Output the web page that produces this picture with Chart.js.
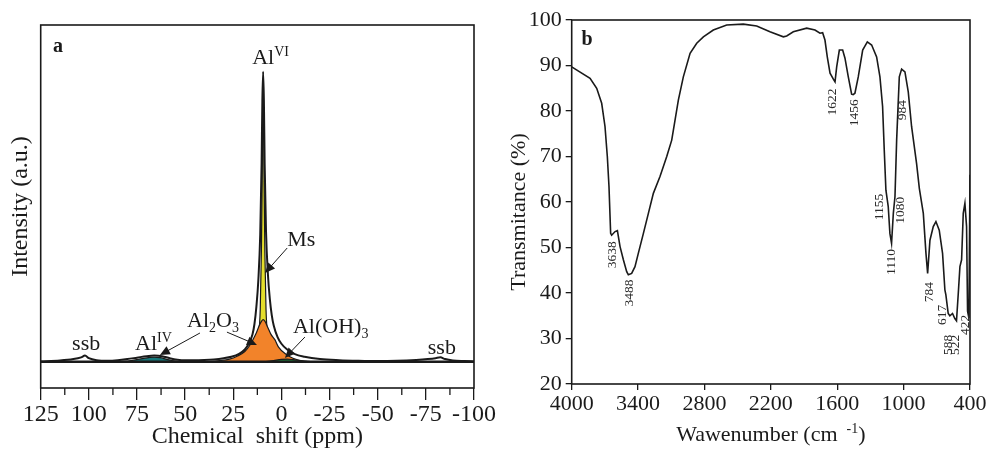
<!DOCTYPE html>
<html>
<head>
<meta charset="utf-8">
<script src="https://cdn.jsdelivr.net/npm/chart.js@4.4.1/dist/chart.umd.min.js"></script>
<style>
  body { margin: 0; background: #fff; }
  #wrap { position: relative; width: 989px; height: 454px; overflow: hidden; }
  canvas { position: absolute; top: 0; }
  #chartA { left: 0; }
  #chartB { left: 500px; }
</style>
</head>
<body>
<div id="wrap">
  <canvas id="chartA" width="500" height="454"></canvas>
  <canvas id="chartB" width="489" height="454"></canvas>
</div>
<script>
// ---- Panel a : 27Al NMR (chemical shift in ppm, intensity a.u.) ----
const envShift = [125, 115, 108, 104, 102, 100, 96, 90, 85, 80, 75, 70, 66, 62, 58, 54, 50, 45, 40, 35,
  30, 26, 22, 19, 17, 15, 14, 13, 12, 11, 10.3, 9.9, 9.5, 9.1, 8.7, 8, 7, 6, 5, 4,
  2, 0, -3, -7, -12, -20, -30, -40, -50, -60, -70, -76, -80, -82.5, -85, -89, -95, -100];
const envInt = [0.001, 0.004, 0.009, 0.015, 0.021, 0.012, 0.005, 0.003, 0.005, 0.009, 0.014, 0.019, 0.021, 0.019, 0.012, 0.007, 0.005, 0.005, 0.006, 0.008,
  0.012, 0.017, 0.027, 0.042, 0.062, 0.095, 0.13, 0.19, 0.28, 0.44, 0.68, 0.9, 1.0, 0.9, 0.68, 0.45, 0.30, 0.215, 0.16, 0.125,
  0.085, 0.062, 0.042, 0.026, 0.017, 0.009, 0.005, 0.003, 0.002, 0.003, 0.006, 0.009, 0.012, 0.015, 0.009, 0.004, 0.002, 0.001];

const msShift = [28, 22, 18, 15, 13, 12, 11, 10.4, 10, 9.5, 9, 8.6, 8, 7, 6, 4, 1, -5, -12];
const msInt = [0, 0.006, 0.014, 0.03, 0.055, 0.09, 0.18, 0.38, 0.62, 0.96, 0.62, 0.38, 0.18, 0.09, 0.055, 0.03, 0.014, 0.006, 0];

const aloShift = [40, 32, 27, 23, 19, 16.5, 14.8, 13, 11.5, 10.3, 9.5, 8.6, 7.2, 5.5, 3.4, 1.5, -2.7, -6, -10, -16];
const aloInt = [0, 0.004, 0.009, 0.019, 0.035, 0.056, 0.076, 0.1, 0.125, 0.14, 0.145, 0.14, 0.12, 0.095, 0.076, 0.05, 0.024, 0.012, 0.004, 0];

const ohShift = [8, 4, 0, -3, -6, -10, -14];
const ohInt = [0, 0.004, 0.008, 0.009, 0.007, 0.003, 0];

const ivShift = [84, 78, 73, 69, 66, 63, 60, 57, 53];
const ivInt = [0, 0.004, 0.01, 0.014, 0.016, 0.014, 0.009, 0.004, 0];

const baseShift = [125, -100];
const baseInt = [0, 0];

const nmrTicks = [125, 100, 75, 50, 25, 0, -25, -50, -75, -100];

// labels of panel a: [parts, ppm, intensity]  (parts: [text, 0 normal | 1 sup | -1 sub])
const nmrLabels = [
  [[['Al', 0], ['VI', 1]], 15.2, 1.026],
  [[['Ms', 0]], -3, 0.40],
  [[['Al', 0], ['2', -1], ['O', 0], ['3', -1]], 49.0, 0.12],
  [[['Al(OH)', 0], ['3', -1]], -6.0, 0.10],
  [[['Al', 0], ['IV', 1]], 76.0, 0.04],
  [[['ssb', 0]], 108.7, 0.04],
  [[['ssb', 0]], -76, 0.027]
];
// arrows of panel a: [fromPpm, fromInt, toPpm, toInt]
const nmrArrows = [
  [-3, 0.392, 8.5, 0.306],
  [42.3, 0.099, 63.1, 0.023],
  [28.3, 0.102, 12.7, 0.058],
  [-12.2, 0.085, -1.8, 0.013]
];

// ---- Panel b : FTIR ----
const irWave = [4000, 3834, 3774, 3729, 3699, 3678, 3663, 3648, 3639, 3608, 3587, 3563, 3533, 3503, 3488, 3458, 3428, 3398, 3352, 3307,
  3262, 3202, 3141, 3096, 3066, 3036, 2991, 2930, 2870, 2810, 2720, 2599, 2449, 2328, 2208, 2087, 2057, 1997, 1876, 1801,
  1756, 1732, 1711, 1690, 1665, 1635, 1620, 1605, 1581, 1551, 1530, 1500, 1470, 1456, 1440, 1410, 1370, 1328, 1289, 1244,
  1214, 1190, 1175, 1160, 1139, 1124, 1109, 1093, 1078, 1063, 1039, 1018, 988, 958, 928, 883, 858, 822, 798, 783,
  762, 732, 708, 678, 648, 627, 618, 597, 582, 558, 537, 522, 506, 491, 476, 461, 446, 431, 422, 410, 400];
const irTrans = [89.7, 87.2, 85.0, 81.7, 76.6, 70.0, 63.4, 53.1, 52.7, 53.5, 53.7, 50.2, 47.3, 44.7, 44.0, 44.3, 45.8, 48.7, 53.1, 57.5,
  61.9, 65.6, 70.0, 73.6, 78.0, 82.4, 87.5, 92.7, 94.9, 96.3, 97.8, 98.9, 99.1, 98.7, 97.4, 96.3, 96.5, 97.4, 98.2, 97.8,
  97.1, 97.2, 95.6, 91.9, 88.3, 87.0, 86.4, 89.7, 93.4, 93.4, 91.6, 87.5, 83.7, 83.6, 83.9, 87.5, 93.4, 95.2, 94.5, 91.9,
  87.5, 81.0, 71.4, 62.6, 59.0, 53.1, 50.9, 57.5, 61.2, 73.6, 87.5, 89.2, 88.6, 84.2, 76.6, 68.5, 63.0, 57.5, 48.7, 44.3,
  51.6, 54.6, 55.7, 53.8, 48.7, 40.7, 39.6, 35.5, 35.0, 35.5, 34.4, 33.9, 39.9, 45.8, 47.3, 57.5, 59.7, 54.6, 36.0, 34.5, 66.0];
const irTicksX = [4000, 3400, 2800, 2200, 1600, 1000, 400];
const irTicksY = [20, 30, 40, 50, 60, 70, 80, 90, 100];

// peak labels of panel b: [text, wavenumber, transmittance]
const irPeaks = [
  ['3638', 3629, 48.4], ['3488', 3475, 40.0], ['1622', 1639, 82.0], ['1456', 1440, 79.6],
  ['984', 1006, 80.2], ['1155', 1214, 58.9], ['1080', 1033, 58.2], ['1110', 1106, 46.8],
  ['784', 762, 40.2], ['617', 653, 35.2], ['588', 599, 28.6], ['522', 527, 28.6], ['422', 445, 33.0]
];

const SERIF = '"Liberation Serif", "Times New Roman", serif';
const INK = '#1a1a1a';

function pts(xs, ys) {
  return xs.map((x, i) => ({ x: x, y: ys[i] }));
}

// texte avec indices / exposants
function drawRich(ctx, parts, x, y, size, align) {
  const small = Math.round(size * 0.64);
  let w = 0;
  parts.forEach(([t, s]) => {
    ctx.font = (s ? small : size) + 'px ' + SERIF;
    w += ctx.measureText(t).width;
  });
  let cx = align === 'center' ? x - w / 2 : x;
  ctx.textAlign = 'left';
  ctx.textBaseline = 'alphabetic';
  parts.forEach(([t, s]) => {
    ctx.font = (s ? small : size) + 'px ' + SERIF;
    const dy = s === 1 ? -size * 0.36 : (s === -1 ? size * 0.22 : 0);
    ctx.fillText(t, cx, y + dy);
    cx += ctx.measureText(t).width;
  });
}

function drawArrow(ctx, x1, y1, x2, y2) {
  const ang = Math.atan2(y2 - y1, x2 - x1);
  const L = 10, H = 4.5;
  ctx.beginPath();
  ctx.moveTo(x1, y1);
  ctx.lineTo(x2 - Math.cos(ang) * L * 0.8, y2 - Math.sin(ang) * L * 0.8);
  ctx.stroke();
  ctx.beginPath();
  ctx.moveTo(x2, y2);
  ctx.lineTo(x2 - Math.cos(ang) * L - Math.sin(ang) * H, y2 - Math.sin(ang) * L + Math.cos(ang) * H);
  ctx.lineTo(x2 - Math.cos(ang) * L + Math.sin(ang) * H, y2 - Math.sin(ang) * L - Math.cos(ang) * H);
  ctx.closePath();
  ctx.fill();
}

// cadre complet autour de la zone du graphique
const framePlugin = {
  id: 'frame',
  afterDraw(chart) {
    const { ctx, chartArea: a } = chart;
    ctx.save();
    ctx.strokeStyle = INK;
    ctx.lineWidth = 1.6;
    ctx.strokeRect(a.left, a.top, a.right - a.left, a.bottom - a.top);
    ctx.restore();
  }
};

function compLine(xs, ys, fillColor, order) {
  return {
    data: pts(xs, ys),
    borderColor: INK,
    borderWidth: 1.2,
    backgroundColor: fillColor,
    fill: fillColor ? 'origin' : false,
    pointRadius: 0,
    cubicInterpolationMode: 'monotone',
    order: order
  };
}

// ---------- Chart a ----------
const nmrPlugin = {
  id: 'nmrLabels',
  afterDraw(chart) {
    const { ctx, scales: { x, y } } = chart;
    ctx.save();
    // minor ticks
    ctx.strokeStyle = INK;
    ctx.lineWidth = 1.3;
    for (let i = 0; i < nmrTicks.length - 1; i++) {
      const px = x.getPixelForValue((nmrTicks[i] + nmrTicks[i + 1]) / 2);
      ctx.beginPath();
      ctx.moveTo(px, y.bottom);
      ctx.lineTo(px, y.bottom + 7);
      ctx.stroke();
    }
    ctx.fillStyle = INK;
    nmrLabels.forEach(([parts, px, py]) => {
      drawRich(ctx, parts, x.getPixelForValue(px), y.getPixelForValue(py), 22, 'left');
    });
    ctx.lineWidth = 1;
    nmrArrows.forEach(([a, b, c, d]) => {
      drawArrow(ctx, x.getPixelForValue(a), y.getPixelForValue(b), x.getPixelForValue(c), y.getPixelForValue(d));
    });
    ctx.font = 'bold 20px ' + SERIF;
    ctx.textAlign = 'center';
    ctx.textBaseline = 'middle';
    ctx.fillText('a', x.getPixelForValue(116), y.getPixelForValue(1.085));
    ctx.restore();
  }
};

new Chart(document.getElementById('chartA'), {
  type: 'line',
  data: {
    datasets: [
      compLine(msShift, msInt, '#e4de2c', 6),
      compLine(aloShift, aloInt, '#f2832a', 5),
      compLine(ohShift, ohInt, '#1f8a3e', 4),
      compLine(ivShift, ivInt, '#16787a', 4),
      { data: pts(baseShift, baseInt), borderColor: INK, borderWidth: 2.4, pointRadius: 0, fill: false, order: 2 },
      { data: pts(envShift, envInt), borderColor: INK, borderWidth: 2, pointRadius: 0, fill: false,
        cubicInterpolationMode: 'monotone', order: 1 }
    ]
  },
  options: {
    responsive: false,
    animation: false,
    events: [],
    layout: { padding: { left: 0, top: 25, right: 26, bottom: 0 } },
    plugins: { legend: { display: false }, tooltip: { enabled: false } },
    scales: {
      x: {
        type: 'linear',
        reverse: true,
        min: -100,
        max: 125,
        afterBuildTicks: s => { s.ticks = nmrTicks.map(v => ({ value: v })); },
        ticks: {
          color: INK,
          padding: 0,
          maxRotation: 0,
          autoSkip: false,
          font: { family: SERIF, size: 24 },
          callback: v => String(v)
        },
        grid: { drawOnChartArea: false, tickLength: 12, color: INK, lineWidth: 1.3 },
        border: { display: false },
        title: {
          display: true,
          text: 'Chemical  shift (ppm)',
          color: INK,
          font: { family: SERIF, size: 24 },
          padding: { top: 0, bottom: 3 }
        },
        afterFit: s => { s.height = 66; s.paddingLeft = 0; s.paddingRight = 0; }
      },
      y: {
        min: -0.0907,
        max: 1.161,
        ticks: { display: false },
        grid: { display: false },
        border: { display: false },
        title: {
          display: true,
          text: 'Intensity (a.u.)',
          color: INK,
          font: { family: SERIF, size: 24 },
          padding: { top: 6, bottom: 0 }
        },
        afterFit: s => { s.width = 40.7; }
      }
    }
  },
  plugins: [framePlugin, nmrPlugin]
});

// ---------- Chart b ----------
const irPlugin = {
  id: 'irLabels',
  afterDraw(chart) {
    const { ctx, scales: { x, y }, chartArea: a } = chart;
    ctx.save();
    ctx.fillStyle = '#2a2a2a';
    ctx.font = '13.5px ' + SERIF;
    ctx.textAlign = 'center';
    ctx.textBaseline = 'middle';
    irPeaks.forEach(([t, w, tr]) => {
      ctx.save();
      ctx.translate(x.getPixelForValue(w), y.getPixelForValue(tr));
      ctx.rotate(-Math.PI / 2);
      ctx.fillText(t, 0, 0);
      ctx.restore();
    });
    ctx.fillStyle = INK;
    ctx.font = 'bold 20px ' + SERIF;
    ctx.fillText('b', x.getPixelForValue(3862), y.getPixelForValue(95.6));
    // titres des axes
    ctx.font = '22px ' + SERIF;
    ctx.save();
    ctx.translate(19, (a.top + a.bottom) / 2 + 10);
    ctx.rotate(-Math.PI / 2);
    ctx.fillText('Transmitance (%)', 0, 0);
    ctx.restore();
    drawRich(ctx, [['Wawenumber (cm ', 0], [' -1', 1], [')', 0]], (a.left + a.right) / 2, 441, 22, 'center');
    ctx.restore();
  }
};

new Chart(document.getElementById('chartB'), {
  type: 'line',
  data: {
    datasets: [{
      data: pts(irWave, irTrans),
      borderColor: INK,
      borderWidth: 1.6,
      pointRadius: 0,
      fill: false,
      tension: 0
    }]
  },
  options: {
    responsive: false,
    animation: false,
    events: [],
    layout: { padding: { left: 0, top: 20, right: 19, bottom: 0 } },
    plugins: { legend: { display: false }, tooltip: { enabled: false } },
    scales: {
      x: {
        type: 'linear',
        reverse: true,
        min: 400,
        max: 4000,
        afterBuildTicks: s => { s.ticks = irTicksX.map(v => ({ value: v })); },
        ticks: {
          color: INK,
          padding: 1,
          maxRotation: 0,
          autoSkip: false,
          font: { family: SERIF, size: 22 },
          callback: v => String(v)
        },
        grid: { drawOnChartArea: false, tickLength: 6, color: INK, lineWidth: 1.3 },
        border: { display: false },
        afterFit: s => { s.height = 70; s.paddingLeft = 0; s.paddingRight = 0; }
      },
      y: {
        min: 20,
        max: 100,
        afterBuildTicks: s => { s.ticks = irTicksY.map(v => ({ value: v })); },
        ticks: {
          color: INK,
          padding: 4,
          font: { family: SERIF, size: 22 },
          callback: v => String(v)
        },
        grid: { drawOnChartArea: false, tickLength: 6, color: INK, lineWidth: 1.3 },
        border: { display: false },
        afterFit: s => { s.width = 71.7; s.paddingTop = 0; s.paddingBottom = 0; }
      }
    }
  },
  plugins: [framePlugin, irPlugin]
});
</script>
</body>
</html>
